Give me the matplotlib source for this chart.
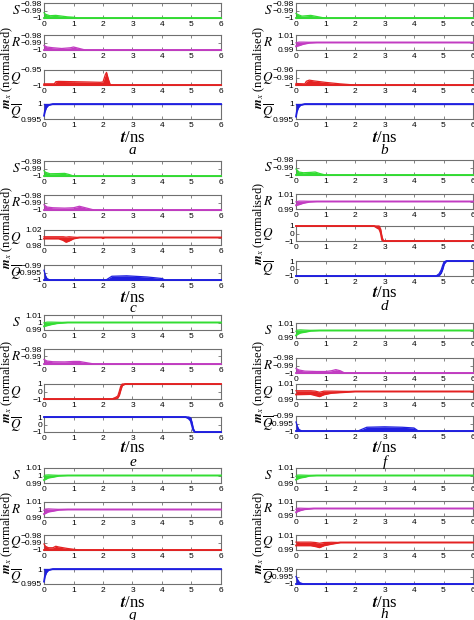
import numpy as np
import matplotlib
matplotlib.use('Agg')
import matplotlib.pyplot as plt

plt.rcParams['mathtext.fontset'] = 'stix'
plt.rcParams['font.family'] = ['Liberation Sans', 'DejaVu Sans']

# ---- data ----
row_labels = ['$S$', '$R$', '$Q$', r'$\overline{Q}$']
row_colors = ['#33dd33', '#c23cc2', '#e42222', '#1f1fe0']
time_ticks = [0, 1, 2, 3, 4, 5, 6]
letters = ['a', 'b', 'c', 'd', 'e', 'f', 'g', 'h']

# y ranges and ticks
lim_m98 = (-1, -0.98); tk_m98 = [-1, -0.99, -0.98]
lim_p1 = (0.99, 1.01); tk_p1 = [0.99, 1, 1.01]
lim_m95 = (-1, -0.95); tk_m95 = [-1, -0.95]
lim_m96 = (-1, -0.96); tk_m96 = [-1, -0.98, -0.96]
lim_995 = (0.995, 1); tk_995 = [0.995, 1]
lim_m99 = (-1, -0.99); tk_m99 = [-1, -0.995, -0.99]
lim_p2 = (0.98, 1.02); tk_p2 = [0.98, 1, 1.02]
lim_sw = (-1, 1); tk_sw = [-1, 0, 1]

# panel a
a_S_t = [0, 0.05, 0.2, 0.4, 0.6, 0.8, 1.0, 1.15, 6]
a_S_hi = [-0.993, -0.995, -0.997, -0.9965, -0.9975, -0.9985, -0.999, -1, -1]
a_R_t = [0, 0.1, 0.3, 0.6, 0.9, 1.0, 1.1, 1.4, 6]
a_R_hi = [-0.994, -0.996, -0.997, -0.998, -0.997, -0.996, -0.997, -1, -1]
a_Q_t = [0, 0.35, 0.4, 0.5, 1.0, 1.5, 1.9, 2.0, 2.08, 2.12, 2.18, 2.25, 6]
a_Q_hi = [-0.996, -0.996, -0.989, -0.988, -0.989, -0.990, -0.991, -0.990, -0.965, -0.958, -0.98, -1, -1]
a_Qb_t = [0, 0.03, 0.08, 0.15, 0.3, 6]
a_Qb_lo = [0.9961, 0.9975, 0.9988, 0.9996, 1, 1]

# panel b
b_S_t = [0, 0.1, 0.2, 0.35, 0.5, 0.7, 0.9, 1.0, 6]
b_S_hi = [-0.994, -0.996, -0.9975, -0.997, -0.9965, -0.998, -0.9995, -1, -1]
b_R_t = [0, 0.1, 0.25, 0.45, 0.7, 6]
b_R_lo = [0.995, 0.996, 0.998, 0.9995, 1, 1]
b_R_hi = [0.9995, 1.0005, 1.0005, 1.0003, 1, 1]
b_Q_t = [0, 0.3, 0.35, 0.45, 0.6, 1.0, 1.5, 2.0, 6]
b_Q_hi = [-0.996, -0.997, -0.99, -0.987, -0.989, -0.993, -0.997, -1, -1]
b_Qb_t = [0, 0.03, 0.08, 0.15, 0.3, 6]
b_Qb_lo = [0.9958, 0.9975, 0.9988, 0.9996, 1, 1]

# panel c
c_S_t = [0, 0.05, 0.2, 0.5, 0.7, 0.85, 1.0, 6]
c_S_hi = [-0.993, -0.995, -0.997, -0.9968, -0.9965, -0.998, -1, -1]
c_R_t = [0, 0.1, 0.3, 0.7, 1.0, 1.2, 1.4, 1.7, 6]
c_R_hi = [-0.993, -0.996, -0.997, -0.9975, -0.997, -0.995, -0.997, -1, -1]
c_Q_t = [0, 0.5, 0.65, 0.75, 0.85, 1.0, 1.2, 1.95, 2.0, 2.05, 6]
c_Q_lo = [0.997, 0.997, 0.993, 0.988, 0.991, 0.997, 1, 1, 0.998, 1, 1]
c_Q_hi = [1.002, 1.002, 1.002, 1.001, 1.002, 1.001, 1, 1, 1.001, 1, 1]
c_Qb_t = [0, 0.05, 0.1, 0.2, 2.1, 2.3, 2.8, 3.5, 4.0, 4.1, 6]
c_Qb_hi = [-0.9935, -0.997, -0.999, -1, -1, -0.9975, -0.9972, -0.998, -0.999, -1, -1]

# panel d
d_S_t = [0, 0.1, 0.25, 0.5, 0.65, 0.8, 1.0, 6]
d_S_hi = [-0.992, -0.996, -0.997, -0.9965, -0.996, -0.998, -1, -1]
d_R_t = [0, 0.1, 0.25, 0.45, 0.7, 6]
d_R_lo = [0.995, 0.996, 0.998, 0.9995, 1, 1]
d_R_hi = [0.9995, 1.0005, 1.0005, 1.0003, 1, 1]
d_Q_t = [0, 2.65, 2.75, 2.82, 2.87, 2.92, 2.97, 6]
d_Q_lo = [1, 1, 0.75, 0.6, 0.1, -0.9, -1, -1]
d_Q_hi = [1, 1, 1, 1, 0.6, -0.5, -1, -1]
d_Qb_t = [0, 4.75, 4.85, 4.92, 4.97, 5.02, 5.1, 6]
d_Qb_lo = [-1, -1, -0.95, -0.6, -0.1, 0.6, 1, 1]
d_Qb_hi = [-1, -1, -0.7, -0.2, 0.4, 0.9, 1, 1]

# panel e
e_S_t = [0, 0.1, 0.25, 0.45, 0.8, 6]
e_S_lo = [0.995, 0.996, 0.9975, 0.999, 1, 1]
e_S_hi = [0.9995, 1.0005, 1.0005, 1.0003, 1, 1]
e_R_t = [0, 0.1, 0.3, 0.7, 1.0, 1.2, 1.4, 1.7, 6]
e_R_hi = [-0.994, -0.996, -0.997, -0.9972, -0.9966, -0.9966, -0.998, -1, -1]
e_Q_t = [0, 2.3, 2.42, 2.5, 2.55, 2.6, 2.65, 2.75, 6]
e_Q_lo = [-1, -1, -0.95, -0.85, -0.5, 0.2, 0.8, 1, 1]
e_Q_hi = [-1, -1, -0.8, -0.6, 0, 0.7, 1, 1, 1]
e_Qb_t = [0, 4.8, 4.9, 4.97, 5.02, 5.06, 5.12, 6]
e_Qb_lo = [1, 1, 0.8, 0.5, -0.2, -0.8, -1, -1]
e_Qb_hi = [1, 1, 1, 0.9, 0.3, -0.5, -1, -1]

# panel f
f_S_t = [0, 0.05, 0.15, 0.3, 0.5, 0.8, 6]
f_S_lo = [0.9935, 0.995, 0.997, 0.998, 0.9995, 1, 1]
f_S_hi = [0.999, 1.0005, 1.0008, 1.0005, 1.0002, 1, 1]
f_R_t = [0, 0.1, 0.3, 0.7, 1.0, 1.2, 1.35, 1.5, 1.65, 6]
f_R_hi = [-0.994, -0.996, -0.9975, -0.998, -0.998, -0.997, -0.9955, -0.997, -1, -1]
f_Q_t = [0, 0.5, 0.65, 0.8, 0.95, 1.2, 1.6, 2.0, 6]
f_Q_lo = [0.996, 0.9965, 0.995, 0.9935, 0.996, 0.998, 0.999, 1, 1]
f_Q_hi = [1.001, 1.001, 1.0005, 0.999, 1.0005, 1.0005, 1.0002, 1, 1]
f_Qb_t = [0, 0.05, 0.1, 0.2, 2.1, 2.4, 3.0, 3.6, 4.0, 4.15, 6]
f_Qb_hi = [-0.994, -0.997, -0.999, -1, -1, -0.9975, -0.9972, -0.9975, -0.998, -1, -1]

# panel g
g_S_t = [0, 0.05, 0.15, 0.3, 0.5, 0.8, 6]
g_S_lo = [0.994, 0.995, 0.997, 0.998, 0.9995, 1, 1]
g_S_hi = [0.999, 1.0005, 1.0008, 1.0005, 1.0002, 1, 1]
g_R_t = [0, 0.05, 0.15, 0.3, 0.5, 0.8, 6]
g_R_lo = [0.994, 0.995, 0.997, 0.998, 0.9995, 1, 1]
g_R_hi = [0.999, 1.0005, 1.0008, 1.0005, 1.0002, 1, 1]
g_Q_t = [0, 0.05, 0.15, 0.3, 0.4, 0.5, 0.8, 1.2, 6]
g_Q_hi = [-0.992, -0.995, -0.997, -0.997, -0.995, -0.996, -0.998, -1, -1]
g_Qb_t = [0, 0.03, 0.08, 0.15, 0.3, 6]
g_Qb_lo = [0.9958, 0.9975, 0.9988, 0.9996, 1, 1]

# panel h
h_S_t = [0, 0.05, 0.15, 0.3, 0.45, 0.7, 6]
h_S_lo = [0.9945, 0.9955, 0.997, 0.998, 0.9995, 1, 1]
h_S_hi = [0.999, 1.0005, 1.0006, 1.0004, 1.0002, 1, 1]
h_R_t = [0, 0.05, 0.15, 0.3, 0.6, 6]
h_R_lo = [0.995, 0.996, 0.9975, 0.999, 1, 1]
h_R_hi = [0.999, 1.0004, 1.0004, 1.0002, 1, 1]
h_Q_t = [0, 0.5, 0.65, 0.8, 0.95, 1.2, 1.5, 6]
h_Q_lo = [0.996, 0.996, 0.995, 0.9935, 0.996, 0.998, 1, 1]
h_Q_hi = [1.0005, 1.0005, 1.0, 0.999, 1.0, 1.0003, 1, 1]
h_Qb_t = [0, 0.05, 0.12, 0.25, 6]
h_Qb_hi = [-0.995, -0.997, -0.999, -1, -1]

# (ylim, yticks, t, lower, upper) for S, R, Q, Qbar
panels = {
    'a': [(lim_m98, tk_m98, a_S_t, -1, a_S_hi), (lim_m98, tk_m98, a_R_t, -1, a_R_hi),
          (lim_m95, tk_m95, a_Q_t, -1, a_Q_hi), (lim_995, tk_995, a_Qb_t, a_Qb_lo, 1)],
    'b': [(lim_m98, tk_m98, b_S_t, -1, b_S_hi), (lim_p1, tk_p1, b_R_t, b_R_lo, b_R_hi),
          (lim_m96, tk_m96, b_Q_t, -1, b_Q_hi), (lim_995, tk_995, b_Qb_t, b_Qb_lo, 1)],
    'c': [(lim_m98, tk_m98, c_S_t, -1, c_S_hi), (lim_m98, tk_m98, c_R_t, -1, c_R_hi),
          (lim_p2, tk_p2, c_Q_t, c_Q_lo, c_Q_hi), (lim_m99, tk_m99, c_Qb_t, -1, c_Qb_hi)],
    'd': [(lim_m98, tk_m98, d_S_t, -1, d_S_hi), (lim_p1, tk_p1, d_R_t, d_R_lo, d_R_hi),
          (lim_sw, tk_sw, d_Q_t, d_Q_lo, d_Q_hi), (lim_sw, tk_sw, d_Qb_t, d_Qb_lo, d_Qb_hi)],
    'e': [(lim_p1, tk_p1, e_S_t, e_S_lo, e_S_hi), (lim_m98, tk_m98, e_R_t, -1, e_R_hi),
          (lim_sw, tk_sw, e_Q_t, e_Q_lo, e_Q_hi), (lim_sw, tk_sw, e_Qb_t, e_Qb_lo, e_Qb_hi)],
    'f': [(lim_p1, tk_p1, f_S_t, f_S_lo, f_S_hi), (lim_m98, tk_m98, f_R_t, -1, f_R_hi),
          (lim_p1, tk_p1, f_Q_t, f_Q_lo, f_Q_hi), (lim_m99, tk_m99, f_Qb_t, -1, f_Qb_hi)],
    'g': [(lim_p1, tk_p1, g_S_t, g_S_lo, g_S_hi), (lim_p1, tk_p1, g_R_t, g_R_lo, g_R_hi),
          (lim_m98, tk_m98, g_Q_t, -1, g_Q_hi), (lim_995, tk_995, g_Qb_t, g_Qb_lo, 1)],
    'h': [(lim_p1, tk_p1, h_S_t, h_S_lo, h_S_hi), (lim_p1, tk_p1, h_R_t, h_R_lo, h_R_hi),
          (lim_p1, tk_p1, h_Q_t, h_Q_lo, h_Q_hi), (lim_m99, tk_m99, h_Qb_t, -1, h_Qb_hi)],
}

# ---- layout in pixels ----
W, H = 474, 620
col_left = [44, 296]
ax_w, ax_h = 177, 15
row_tops = {
    'a': [3, 35, 70, 104], 'b': [3, 35, 70, 104],
    'c': [161, 195, 230, 265], 'd': [160, 194, 226, 261],
    'e': [315, 349, 384, 417], 'f': [323, 358, 384, 416],
    'g': [468, 502, 535, 569], 'h': [468, 501, 535, 569],
}
xlab_y = {'a': 138, 'b': 138, 'c': 298, 'd': 293, 'e': 448, 'f': 448, 'g': 603, 'h': 603}
let_y = {'a': 150, 'b': 150, 'c': 309, 'd': 307, 'e': 462, 'f': 462, 'g': 615, 'h': 614}


def fmt(v):
    return ('%g' % v).replace('-', '\u2212')


fig = plt.figure(figsize=(W / 100, H / 100), dpi=100)
frame = '#707070'

for i, key in enumerate(letters):
    col = i % 2
    left = col_left[col]
    for r in range(4):
        ylim, yticks, t, lo, hi = panels[key][r]
        top = row_tops[key][r]
        ax = fig.add_axes([left / W, 1 - (top + ax_h) / H, ax_w / W, ax_h / H])
        t = np.asarray(t, float)
        lo = np.broadcast_to(np.asarray(lo, float), t.shape)
        hi = np.broadcast_to(np.asarray(hi, float), t.shape)
        c = row_colors[r]
        ax.fill_between(t, lo, hi, color=c, lw=0, zorder=3, clip_on=False)
        ax.plot(t, lo, color=c, lw=1.3, zorder=3, clip_on=False)
        ax.plot(t, hi, color=c, lw=0.9, zorder=3, clip_on=False)
        ax.set_xlim(0, 6)
        ax.set_ylim(*ylim)
        ax.set_xticks(time_ticks)
        ax.set_xticklabels([str(v) for v in time_ticks])
        ax.set_yticks(yticks)
        ax.set_yticklabels([fmt(v) for v in yticks])
        ax.tick_params(direction='in', length=2.5, width=0.6, color=frame,
                       labelsize=6, pad=1.5, top=True, right=True)
        ax.tick_params(axis='x', pad=2)
        for s in ax.spines.values():
            s.set_color(frame)
            s.set_linewidth(0.8)
        ax.text(-28 / ax_w, 0.5, row_labels[r], transform=ax.transAxes,
                ha='center', va='center', fontsize=9.5)
    # common labels
    cx = (left + ax_w / 2) / W
    fig.text(cx, 1 - xlab_y[key] / H, r'$\mathbfit{t}$/ns', ha='center', va='center',
             fontsize=12, family='Liberation Serif')
    fig.text(cx, 1 - let_y[key] / H, key, ha='center', va='center',
             fontsize=11, style='italic', family='Liberation Serif')
    yl_x = 7 if col == 0 else 259
    fig.text(yl_x / W, 1 - (row_tops[key][2] - 2) / H, r'$\mathbfit{m}_x$ (normalised)',
             rotation=90, ha='center', va='center', fontsize=9, family='Liberation Serif')

fig.savefig('out.png', dpi=100)
